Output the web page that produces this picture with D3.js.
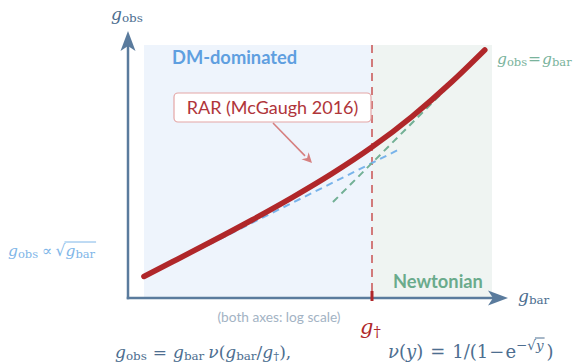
<!DOCTYPE html>
<html>
<head>
<meta charset="utf-8">
<script src="https://cdn.jsdelivr.net/npm/d3@7/dist/d3.min.js"></script>
<style>
  html, body { margin: 0; padding: 0; background: #ffffff; }
  svg { display: block; }
  .math { font-family: "DejaVu Serif", "Liberation Serif", serif; }
  .sans { font-family: "Lato", "Open Sans", sans-serif; }
</style>
</head>
<body>
<svg id="chart" width="581" height="364"></svg>
<script>
// Accelerations in units of g† (log–log axes)
const gBar = [0.00141, 0.00316, 0.01, 0.0316, 0.1, 0.316, 1, 3.16, 10, 25.7];
const gObs = [0.0382, 0.0578, 0.105, 0.194, 0.369, 0.735, 1.58, 3.81, 10.4, 25.9];

// Deep-MOND asymptote g_obs = sqrt(g_bar·g†)
const deepBar = [0.00141, 0.0316, 1, 2.24];
const deepObs = [0.0376, 0.178, 1, 1.50];

// Newtonian asymptote g_obs = g_bar
const newtBar = [0.325, 1, 25.7];
const newtObs = [0.325, 1, 25.7];

const gDagger = 1;
const xDomain = [Math.pow(10, -2.85), Math.pow(10, 1.5)];
const yDomain = [Math.pow(10, -1.6625), Math.pow(10, 1.475)];

const svg = d3.select("#chart");

const x = d3.scaleLog().domain(xDomain).range([144, 492]);
const y = d3.scaleLog().domain(yDomain).range([296, 45]);

const axisColor = "#5a7b9d";
const xAxisY = 298, yAxisX = 128;

// Regime backgrounds
svg.append("rect")
  .attr("x", x(xDomain[0])).attr("y", y(yDomain[1]))
  .attr("width", x(gDagger) - x(xDomain[0]))
  .attr("height", xAxisY - y(yDomain[1]))
  .attr("fill", "#eef4fc");
svg.append("rect")
  .attr("x", x(gDagger)).attr("y", y(yDomain[1]))
  .attr("width", x(xDomain[1]) - x(gDagger))
  .attr("height", xAxisY - y(yDomain[1]))
  .attr("fill", "#eff4f2");

// Regime labels
svg.append("text").attr("class", "sans")
  .attr("x", 172).attr("y", 64)
  .attr("font-size", 18.3).attr("font-weight", 700)
  .attr("fill", "#5f9fe0").text("DM-dominated");
svg.append("text").attr("class", "sans")
  .attr("x", 393).attr("y", 288)
  .attr("font-size", 18.3).attr("font-weight", 700)
  .attr("fill", "#6aab8c").text("Newtonian");

const line = d3.line()
  .x(d => x(d[0]))
  .y(d => y(d[1]))
  .curve(d3.curveMonotoneX);

// Vertical marker at g†
svg.append("line")
  .attr("x1", x(gDagger)).attr("x2", x(gDagger))
  .attr("y1", y(yDomain[1])).attr("y2", xAxisY)
  .attr("stroke", "#d27a7a").attr("stroke-width", 2)
  .attr("stroke-dasharray", "8,6");

// Asymptotes
svg.append("path")
  .datum(deepBar.map((v, i) => [v, deepObs[i]]))
  .attr("d", line)
  .attr("fill", "none").attr("stroke", "#78b3ea")
  .attr("stroke-width", 2).attr("stroke-dasharray", "7,5");
svg.append("path")
  .datum(newtBar.map((v, i) => [v, newtObs[i]]))
  .attr("d", line)
  .attr("fill", "none").attr("stroke", "#72b095")
  .attr("stroke-width", 2).attr("stroke-dasharray", "7,5");

// Radial acceleration relation
svg.append("path")
  .datum(gBar.map((v, i) => [v, gObs[i]]))
  .attr("d", line)
  .attr("fill", "none").attr("stroke", "#b0272a")
  .attr("stroke-width", 5.5).attr("stroke-linecap", "round");

// Axes with arrowheads
function arrowHead(tipX, tipY, dir) {
  const L = 20, W = 7.5, N = 5;
  let pts;
  if (dir === "up") {
    pts = [[tipX, tipY], [tipX + W, tipY + L], [tipX, tipY + L - N], [tipX - W, tipY + L]];
  } else {
    pts = [[tipX, tipY], [tipX - L, tipY - W], [tipX - L + N, tipY], [tipX - L, tipY + W]];
  }
  svg.append("path").attr("d", "M" + pts.join("L") + "Z").attr("fill", axisColor);
}
svg.append("line")
  .attr("x1", yAxisX).attr("x2", yAxisX)
  .attr("y1", xAxisY + 1.25).attr("y2", 45)
  .attr("stroke", axisColor).attr("stroke-width", 2.5);
svg.append("line")
  .attr("x1", yAxisX - 1.25).attr("x2", 495)
  .attr("y1", xAxisY).attr("y2", xAxisY)
  .attr("stroke", axisColor).attr("stroke-width", 2.5);
arrowHead(yAxisX, 31, "up");
arrowHead(508, xAxisY, "right");

// g† tick
svg.append("line")
  .attr("x1", x(gDagger)).attr("x2", x(gDagger))
  .attr("y1", 291).attr("y2", 301)
  .attr("stroke", "#b0272a").attr("stroke-width", 3);

// Math typesetting: each piece is its own text element laid out left to right.
// Piece options: t (text), i (italic), s (size factor), dy (baseline shift),
// gap (extra space before), barStart/barEnd (overline group)
function mathRow(x0, y0, parts, color, size) {
  const g = svg.append("g");
  let cx = x0;
  let barStart = null;
  parts.forEach(p => {
    cx += (p.gap || 0);
    const fs = size * (p.s || 1);
    const t = g.append("text").attr("class", "math")
      .attr("x", cx).attr("y", y0 + (p.dy || 0))
      .attr("font-size", fs).attr("fill", color)
      .text(p.t);
    if (p.i) t.attr("font-style", "italic");
    if (p.barStart) barStart = cx;
    cx += t.node().getComputedTextLength();
    if (p.barEnd && barStart !== null) {
      g.append("line")
        .attr("x1", barStart - 1).attr("x2", cx + 1)
        .attr("y1", y0 + p.barY).attr("y2", y0 + p.barY)
        .attr("stroke", color).attr("stroke-width", 1);
      barStart = null;
    }
  });
  return cx;
}

mathRow(111, 20, [{t: "g", i: true}, {t: "obs", s: 0.7, dy: 2}], "#4d6e90", 17);
mathRow(518, 302, [{t: "g", i: true}, {t: "bar", s: 0.7, dy: 2}], "#4d6e90", 17);

mathRow(497, 64, [
  {t: "g", i: true}, {t: "obs", s: 0.74, dy: 2},
  {t: "=", gap: 1}, {t: "g", i: true, gap: 1}, {t: "bar", s: 0.74, dy: 2}
], "#7ab39c", 15.5);

mathRow(8, 256, [
  {t: "g", i: true}, {t: "obs", s: 0.74, dy: 2},
  {t: "∝", gap: 4}, {t: "√", gap: 3},
  {t: "g", i: true, barStart: true}, {t: "bar", s: 0.74, dy: 2, barEnd: true, barY: -14}
], "#7fb6e8", 15.5);

// Annotation callout
svg.append("rect")
  .attr("x", 174).attr("y", 93).attr("width", 197).attr("height", 29)
  .attr("rx", 4).attr("fill", "#ffffff")
  .attr("stroke", "#e4a6a6").attr("stroke-width", 1.2);
svg.append("text").attr("class", "sans")
  .attr("x", 272.5).attr("y", 114).attr("text-anchor", "middle")
  .attr("font-size", 18).attr("fill", "#b0353a")
  .text("RAR (McGaugh 2016)");
(function () {
  const x0 = 273, y0 = 123, x1 = 312, y1 = 163;
  const ang = Math.atan2(y1 - y0, x1 - x0);
  const L = 10, W = 5;
  const bx = x1 - L * Math.cos(ang), by = y1 - L * Math.sin(ang);
  svg.append("line").attr("x1", x0).attr("y1", y0).attr("x2", bx).attr("y2", by)
    .attr("stroke", "#d68080").attr("stroke-width", 1.6);
  const px = -Math.sin(ang) * W, py = Math.cos(ang) * W;
  svg.append("path")
    .attr("d", `M${x1},${y1}L${bx + px},${by + py}L${bx + Math.cos(ang) * 3},${by + Math.sin(ang) * 3}L${bx - px},${by - py}Z`)
    .attr("fill", "#d68080");
})();

// Footnotes
svg.append("text").attr("class", "sans")
  .attr("x", 279).attr("y", 322).attr("text-anchor", "middle")
  .attr("font-size", 13.7).attr("fill", "#a3b3c4")
  .text("(both axes: log scale)");

mathRow(360, 334, [{t: "g", i: true}, {t: "†", s: 0.7, dy: 3}], "#b0272a", 21);

mathRow(115, 358, [
  {t: "g", i: true}, {t: "obs", s: 0.7, dy: 2},
  {t: "=", gap: 6}, {t: "g", i: true, gap: 6}, {t: "bar", s: 0.7, dy: 2},
  {t: "ν", i: true, gap: 4}, {t: "("}, {t: "g", i: true}, {t: "bar", s: 0.7, dy: 2},
  {t: "/"}, {t: "g", i: true}, {t: "†", s: 0.7, dy: 2},
  {t: "),"}
], "#4d6e90", 17);

mathRow(388, 358, [
  {t: "ν", i: true}, {t: "("}, {t: "y", i: true}, {t: ")"},
  {t: "=", gap: 7}, {t: "1/(1", gap: 7}, {t: "−", gap: 1}, {t: "e", gap: 1},
  {t: "−√", s: 0.75, dy: -8}, {t: "y", s: 0.75, dy: -8, i: true, barStart: true, barEnd: true, barY: -20},
  {t: ")", gap: 3}
], "#4d6e90", 18);
</script>
</body>
</html>
